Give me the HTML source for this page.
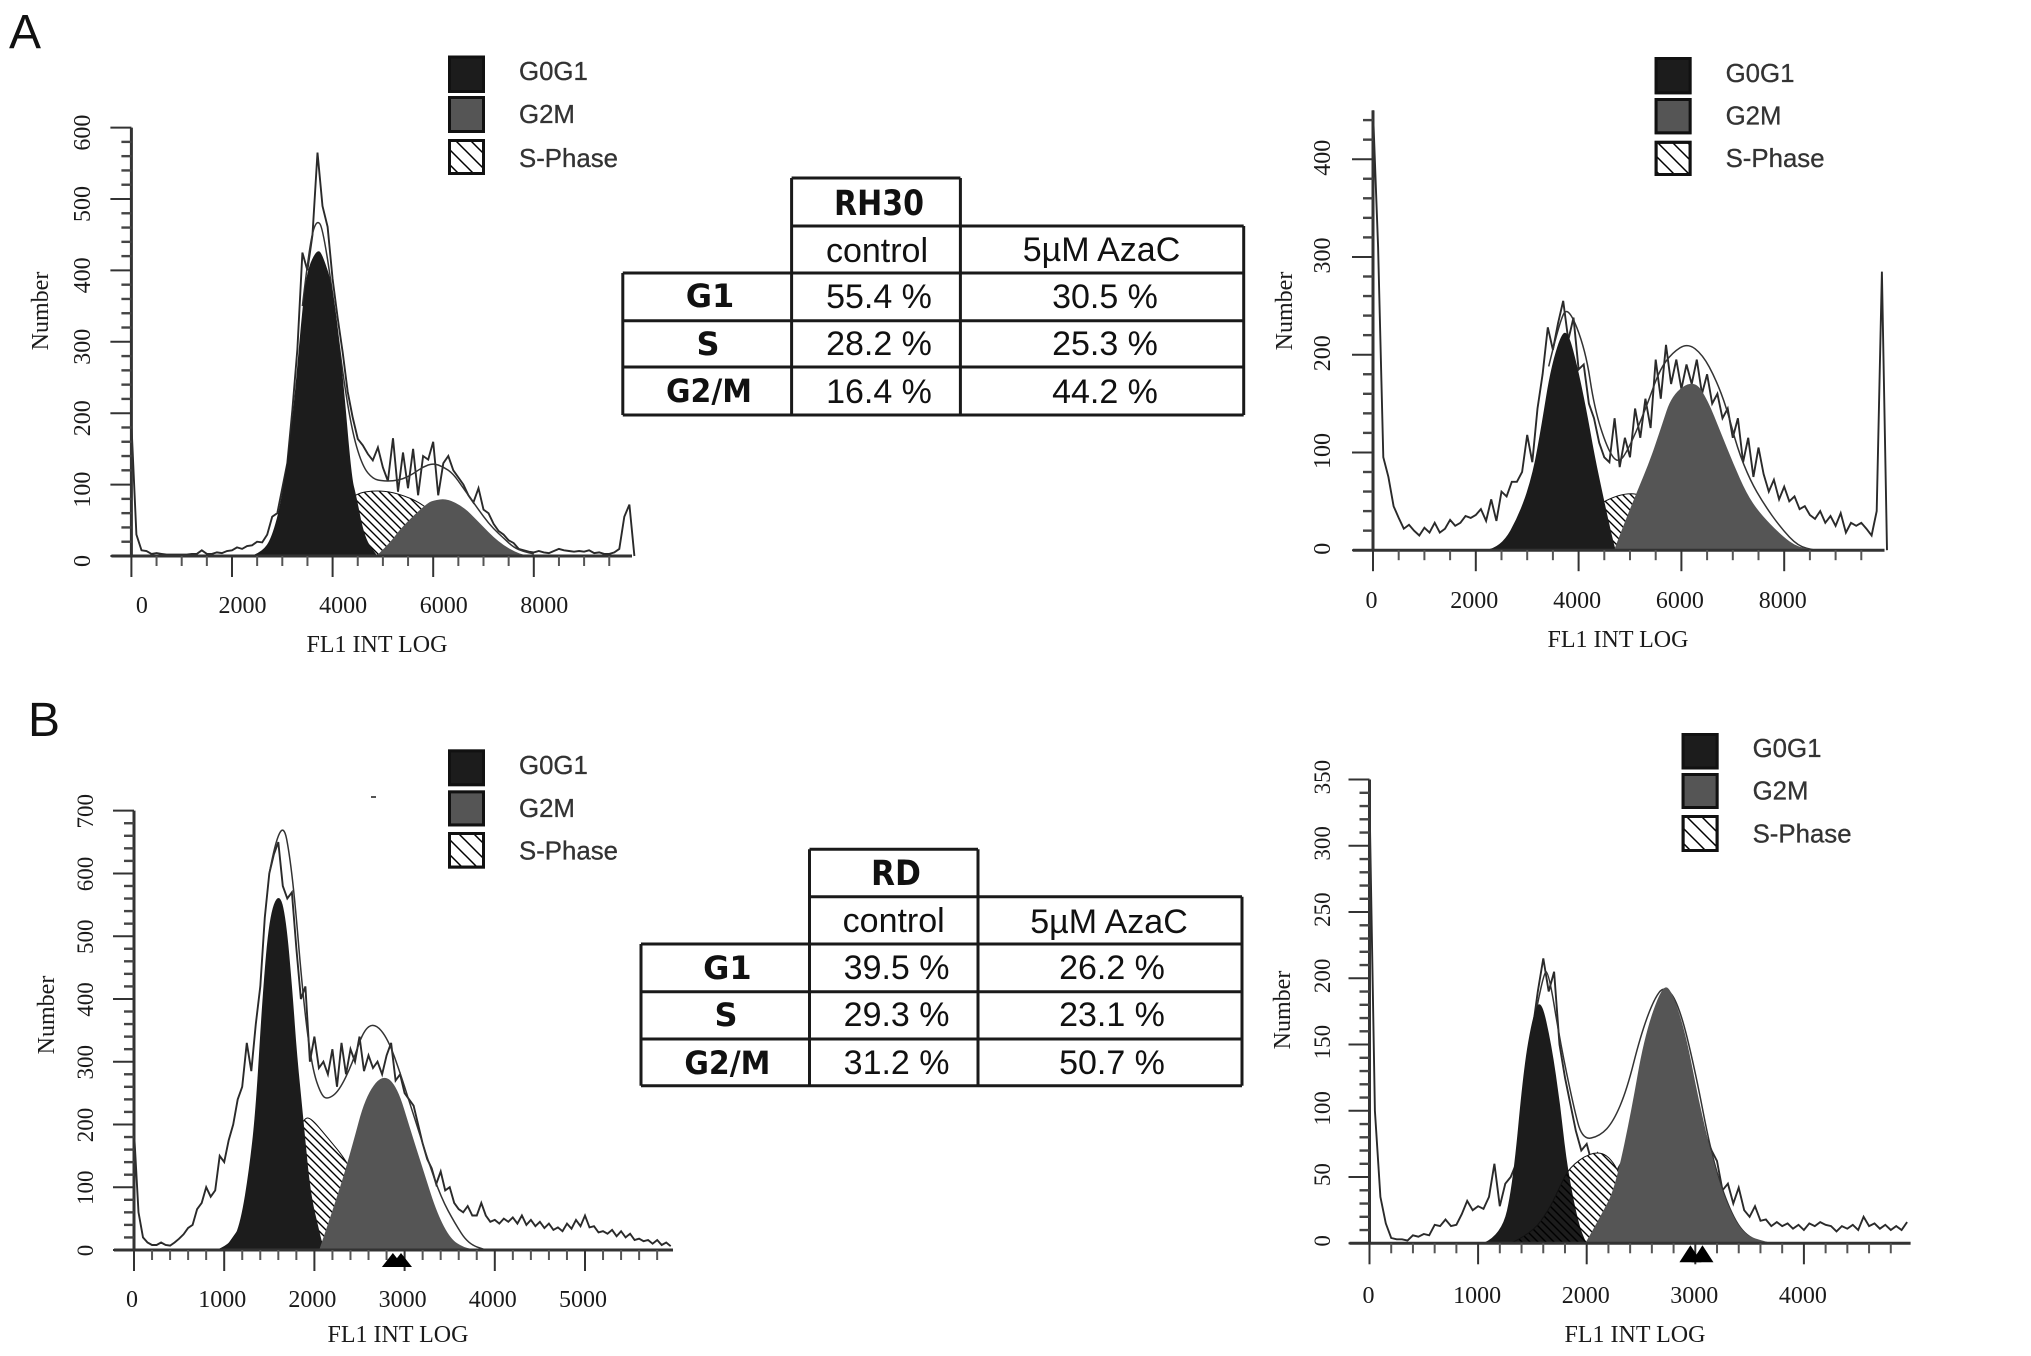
<!DOCTYPE html>
<html lang="en">
<head>
<meta charset="utf-8">
<title>Cell cycle flow cytometry histograms for RH30 and RD cells</title>
<style>
html,body{margin:0;padding:0;background:#fff;}
#figure{display:block;width:2031px;height:1356px;background:#fff;}
.axis-text{font-family:"Liberation Serif",serif;fill:#1a1a1a;}
.legend-text{font-family:"Liberation Sans",sans-serif;font-size:25.8px;fill:#333;stroke:#333;stroke-width:0.3;}
.cell-text{font-family:"Liberation Sans",sans-serif;font-size:34px;fill:#111;text-anchor:middle;}
.cell-bold{font-family:"DejaVu Sans",sans-serif;font-weight:bold;font-size:32px;fill:#111;text-anchor:middle;}
.cell-title{font-size:35px;}
.panel-letter{font-family:"Liberation Sans",sans-serif;font-size:48px;fill:#111;}
.grid-line{stroke:#1a1a1a;stroke-width:3;fill:none;}
</style>
</head>
<body>
<svg id="figure" xmlns="http://www.w3.org/2000/svg" width="2031" height="1356" viewBox="0 0 2031 1356">
<defs>
<pattern id="hatch" patternUnits="userSpaceOnUse" width="8" height="8"><path d="M-1,-1 L9,9 M-1,7 L1,9 M7,-1 L9,1" stroke="#000" stroke-width="1.4" fill="none"/></pattern>
<pattern id="hatch-wide" patternUnits="userSpaceOnUse" width="15" height="15"><path d="M-1,-1 L16,16 M-1,14 L1,16 M14,-1 L16,1" stroke="#000" stroke-width="1.5" fill="none"/></pattern>
</defs>

<text class="panel-letter" x="9" y="48">A</text>
<text class="panel-letter" x="28" y="736">B</text>

<g id="table-rh30">
<path class="grid-line" d="M791.6,178H960.4M791.6,226H1243.7M622.8,273H1243.7M622.8,320.7H1243.7M622.8,367H1243.7M622.8,415H1243.7M622.8,273V415M791.6,178V415M960.4,178V415M1243.7,226V415"/>
<text class="cell-bold cell-title" x="879" y="215" textLength="90" lengthAdjust="spacingAndGlyphs">RH30</text>
<text class="cell-text" x="877" y="262">control</text>
<text class="cell-text" x="1101.5" y="261">5µM AzaC</text>
<text class="cell-bold" x="710" y="307">G1</text>
<text class="cell-bold" x="708" y="355">S</text>
<text class="cell-bold" x="709" y="402" textLength="86" lengthAdjust="spacingAndGlyphs">G2/M</text>
<text class="cell-text" x="879" y="308">55.4 %</text>
<text class="cell-text" x="1105" y="308">30.5 %</text>
<text class="cell-text" x="879" y="355">28.2 %</text>
<text class="cell-text" x="1105" y="355">25.3 %</text>
<text class="cell-text" x="879" y="403">16.4 %</text>
<text class="cell-text" x="1105" y="403">44.2 %</text>
</g>

<g id="table-rd">
<path class="grid-line" d="M809.5,849.3H978M809.5,896.7H1242M641,944H1242M641,991.7H1242M641,1039H1242M641,1085.7H1242M641,944V1085.7M809.5,849.3V1085.7M978,849.3V1085.7M1242,896.7V1085.7"/>
<text class="cell-bold cell-title" x="896" y="885" textLength="50" lengthAdjust="spacingAndGlyphs">RD</text>
<text class="cell-text" x="893.7" y="932">control</text>
<text class="cell-text" x="1109" y="933">5µM AzaC</text>
<text class="cell-bold" x="727.4" y="979">G1</text>
<text class="cell-bold" x="726" y="1026">S</text>
<text class="cell-bold" x="727.4" y="1074" textLength="86" lengthAdjust="spacingAndGlyphs">G2/M</text>
<text class="cell-text" x="896.6" y="979">39.5 %</text>
<text class="cell-text" x="1112" y="979">26.2 %</text>
<text class="cell-text" x="896.6" y="1026">29.3 %</text>
<text class="cell-text" x="1112" y="1026">23.1 %</text>
<text class="cell-text" x="896.6" y="1074">31.2 %</text>
<text class="cell-text" x="1112" y="1074">50.7 %</text>
</g>

<rect x="371" y="796" width="5" height="2" fill="#555"/>
</svg>

<script>
// ---- Panel A, RH30 control ----
const a1Step = 100;
const a1Counts = [
185,30,8,7,3,4,3,2,2,2,
2,2,3,3,8,3,3,5,4,7,
8,12,10,14,15,20,19,30,55,60,
95,130,205,290,425,400,450,565,490,461,
388,334,285,230,194,164,155,143,134,152,
124,105,165,90,145,95,150,85,140,135,
160,85,130,140,120,110,100,85,75,95,
65,60,45,35,30,22,18,10,8,6,
5,7,5,4,7,10,8,7,6,7,
6,8,4,5,3,3,5,10,55,72,
0];
const a1FitX = [3400,3500,3600,3700,3800,4000,4200,4400,4600,4800,5000,5200,5400,5600,5800,6000,6200,6400,6600,6800,7000,7200,7400,7600,7800,8000];
const a1Fit  = [350,410,455,470,460,370,255,170,125,108,105,105,108,115,125,130,125,115,95,75,55,38,25,12,6,3];
const a1G1X  = [2400,2600,2800,3000,3200,3400,3500,3700,3800,4000,4200,4370,4460,4630,4880];
const a1G1   = [0,5,25,80,180,340,400,430,420,376,249,109,85,24,0];
const a1G2X  = [4880,5100,5405,5879,6000,6267,6600,6870,7300,7730,8000];
const a1G2   = [0,14,42,73,77,80,68,49,18,1,0];
const a1SX   = [2900,3500,4000,4450,4900,5300,5800,6200,6800];
const a1S    = [0,20,60,88,92,88,73,45,0];
const a1XTicks = [0,2000,4000,6000,8000];
const a1YTicks = [0,100,200,300,400,500,600];

// ---- Panel A, RH30 5uM AzaC ----
const a2Step = 100;
const a2Counts = [
450,310,95,75,45,33,22,26,20,15,
23,18,28,18,22,31,25,28,35,33,
36,42,30,52,30,60,55,70,70,80,
118,90,145,180,228,205,232,255,215,238,
185,190,150,135,110,95,90,135,85,115,
95,145,115,155,125,195,155,210,170,195,
165,190,170,195,160,180,150,160,135,145,
115,135,90,115,75,105,78,60,72,52,
65,50,55,42,45,36,32,40,28,35,
25,38,18,28,25,28,22,15,40,285,
0];
const a2FitX = [3418,3629,3797,4135,4304,4557,4768,4979,5316,5570,5823,6118,6414,6667,6878,7089,7342,7595,7932,8270,8600];
const a2Fit  = [188,234,250,205,146,104,88,104,146,184,202,212,200,175,146,104,71,48,23,4,0];
const a2G1X  = [2200,2490,2870,3122,3291,3460,3671,3797,3966,4135,4304,4473,4684,4720];
const a2G1   = [0,2,38,79,129,184,222,222,188,146,96,54,4,0];
const a2G2X  = [4700,4895,5148,5401,5612,5823,6245,6498,6751,7004,7257,7510,7932,8270,8700];
const a2G2   = [0,27,60,92,125,159,174,154,121,88,58,38,15,2,0];
const a2SX   = [3000,3800,4515,5063,5400,6000];
const a2S    = [0,25,52,60,50,0];
const a2XTicks = [0,2000,4000,6000,8000];
const a2YTicks = [0,100,200,300,400];

// ---- Panel B, RD control ----
const b1Step = 50;
const b1Counts = [
190,60,20,12,8,8,12,8,7,12,
18,25,35,40,65,75,100,85,95,150,
140,175,200,240,260,330,285,360,420,530,
600,630,650,580,560,570,480,400,420,300,
340,290,300,280,320,260,330,280,320,300,
340,285,310,290,300,280,310,330,270,280,
250,240,230,200,170,145,130,105,125,95,
100,75,65,60,70,55,55,75,55,45,
48,42,50,45,52,42,55,40,48,38,
45,35,42,32,36,30,42,34,48,38,
55,36,38,28,30,26,32,22,30,20,
26,16,18,14,16,10,16,8,12,6];
const b1FitX = [1500,1630,1753,1877,1975,2074,2148,2272,2420,2543,2667,2815,2963,3111,3259,3407,3555,3704,3900];
const b1Fit  = [600,700,610,397,290,247,240,253,297,350,362,337,277,210,143,83,43,10,0];
const b1G1X  = [938,1086,1185,1284,1358,1432,1506,1605,1679,1753,1802,1877,1951,2049,2100];
const b1G1   = [1,10,43,130,230,410,530,570,530,410,310,203,90,30,0];
const b1G2X  = [2059,2272,2420,2568,2756,2914,3062,3210,3358,3506,3654,3800];
const b1G2   = [0,90,163,243,280,260,190,123,57,17,3,0];
const b1SX   = [1000,1400,1700,1877,1950,2123,2370,2700,3000];
const b1S    = [0,80,160,208,212,183,140,50,0];
const b1XTicks = [0,1000,2000,3000,4000,5000];
const b1YTicks = [0,100,200,300,400,500,600,700];
const b1Markers = [2870,2960];

// ---- Panel B, RD 5uM AzaC ----
const b2Step = 50;
const b2Counts = [
335,100,35,15,4,3,3,2,6,5,
7,6,14,13,18,13,14,22,32,25,
28,26,35,60,28,45,50,60,100,120,
160,190,215,190,205,150,125,105,85,70,
75,60,68,62,60,50,58,65,70,80,
90,115,140,165,185,190,185,165,150,130,
110,95,80,70,62,40,45,30,42,25,
20,28,17,18,13,16,13,15,11,14,
10,15,13,16,14,13,9,13,11,14,
10,20,13,15,11,14,10,13,10,16];
const b2FitX = [1500,1600,1650,1753,1877,1959,2123,2247,2370,2494,2617,2720,2850,3000,3150,3300,3450,3650];
const b2Fit  = [160,205,205,153,104,78,81,92,116,156,184,195,180,130,66,28,6,0];
const b2G1X  = [1053,1218,1321,1424,1506,1576,1671,1753,1815,1918,1992];
const b2G1   = [0,6,43,132,171,185,150,104,58,15,0];
const b2G2X  = [1992,2165,2267,2412,2535,2700,2782,2905,3029,3152,3276,3440,3646,3700];
const b2G2   = [0,25,43,98,156,195,190,159,107,64,31,6,1,0];
const b2SX   = [1300,1500,1650,1750,1835,2041,2206,2350,2500];
const b2S    = [0,8,25,42,57,69,67,45,0];
const b2XTicks = [0,1000,2000,3000,4000];
const b2YTicks = [0,50,100,150,200,250,300,350];
const b2Markers = [2955,3066];

const legendEntries = ['G0G1','G2M','S-Phase'];

const svgNS = 'http://www.w3.org/2000/svg';
const root = document.getElementById('figure');

function make(tag, attrs, parent, name) {
  const node = document.createElementNS(svgNS, tag);
  Object.keys(attrs).forEach(function (k) { node.setAttribute(k, attrs[k]); });
  
  
  parent.appendChild(node);
  return node;
}

function drawPanel(cfg) {
  const g = make('g', {}, root, cfg.id + '-panel');
  const sx = function (v) { return cfg.x0 + v * cfg.kx; };
  const sy = function (v) { return cfg.y0 - v * cfg.ky; };
  const pts = function (xs, ys) {
    return xs.map(function (x, i) { return sx(x).toFixed(1) + ',' + sy(ys[i]).toFixed(1); }).join(' ');
  };
  // rounds the read-off curve through segment midpoints so the model peaks stay bell shaped
  const smooth = function (xs, ys, close) {
    const px = xs.map(sx);
    const py = ys.map(sy);
    let d = 'M' + px[0].toFixed(1) + ',' + py[0].toFixed(1);
    for (let i = 1; i < px.length - 1; i++) {
      const mx = (px[i] + px[i + 1]) / 2;
      const my = (py[i] + py[i + 1]) / 2;
      d += ' Q' + px[i].toFixed(1) + ',' + py[i].toFixed(1) + ' ' + mx.toFixed(1) + ',' + my.toFixed(1);
    }
    d += ' L' + px[px.length - 1].toFixed(1) + ',' + py[py.length - 1].toFixed(1);
    return close ? d + ' Z' : d;
  };
  const binX = cfg.counts.map(function (_, i) { return i * cfg.step; });

  // measured histogram and model fit sit beneath the filled phases
  make('polyline', {points: pts(binX, cfg.counts), fill: 'none', stroke: '#2a2a2a', 'stroke-width': 1.9, 'stroke-linejoin': 'miter'}, g, cfg.id + '-histogram');
  make('path', {d: smooth(cfg.fitX, cfg.fit, false), fill: 'none', stroke: '#333', 'stroke-width': 1.5}, g, cfg.id + '-fit-line');

  if (cfg.hatchOverDark) {
    make('path', {d: smooth(cfg.sX, cfg.s, true), fill: '#fff', stroke: 'none'}, g, cfg.id + '-s-phase-base');
    make('path', {d: smooth(cfg.g1X, cfg.g1, true), fill: '#1c1c1c', stroke: '#1c1c1c', 'stroke-width': 1}, g, cfg.id + '-g0g1-area');
    make('path', {d: smooth(cfg.sX, cfg.s, true), fill: 'url(#hatch)', stroke: '#111', 'stroke-width': 1}, g, cfg.id + '-s-phase-area');
  } else {
    make('path', {d: smooth(cfg.sX, cfg.s, true), fill: '#fff', stroke: 'none'}, g, cfg.id + '-s-phase-base');
    make('path', {d: smooth(cfg.sX, cfg.s, true), fill: 'url(#hatch)', stroke: '#111', 'stroke-width': 1}, g, cfg.id + '-s-phase-area');
    make('path', {d: smooth(cfg.g1X, cfg.g1, true), fill: '#1c1c1c', stroke: '#1c1c1c', 'stroke-width': 1}, g, cfg.id + '-g0g1-area');
  }
  make('path', {d: smooth(cfg.g2X, cfg.g2, true), fill: '#555', stroke: '#555', 'stroke-width': 1}, g, cfg.id + '-g2m-area');

  // y axis
  make('line', {x1: sx(0), x2: sx(0), y1: sy(cfg.yMax), y2: sy(0), stroke: '#333', 'stroke-width': 3}, g, cfg.id + '-y-axis');
  for (let v = 0; v <= cfg.yMax + 0.001; v += cfg.yMinor) {
    const major = v % cfg.yMajor === 0;
    const tick = make('line', {x1: sx(0) - (major ? 21 : 10), x2: sx(0), y1: sy(v), y2: sy(v), stroke: major ? '#333' : '#444', 'stroke-width': major ? 2 : 2.4}, g, 'y-tick');
    tick.setAttribute('data-value', v);
  }
  cfg.yTicks.forEach(function (v) {
    const ly = sy(v) + cfg.yLabelOffset;
    const label = make('text', {x: cfg.yLabelX, y: ly, 'font-size': cfg.tickFont, 'text-anchor': 'middle', 'dominant-baseline': 'central', transform: 'rotate(-90 ' + cfg.yLabelX + ' ' + ly + ')', class: 'axis-text'}, g, 'y-tick-label');
    label.textContent = v;
  });

  // x axis
  make('line', {x1: sx(0) - 20, x2: cfg.xEnd, y1: sy(0), y2: sy(0), stroke: '#333', 'stroke-width': 3}, g, cfg.id + '-x-axis');
  for (let v = 0; sx(v) <= cfg.xEnd; v += cfg.xMinor) {
    const major = v % cfg.xMajor === 0;
    const tick = make('line', {x1: sx(v), x2: sx(v), y1: sy(0), y2: sy(0) + (major ? 21 : 10), stroke: major ? '#333' : '#555', 'stroke-width': 2}, g, 'x-tick');
    tick.setAttribute('data-value', v);
  }
  cfg.xTicks.forEach(function (v) {
    const label = make('text', {x: sx(v) + cfg.xLabelOffset, y: cfg.xLabelY, 'font-size': 24, 'text-anchor': 'middle', 'dominant-baseline': 'central', class: 'axis-text'}, g, 'x-tick-label');
    label.textContent = v;
  });

  (cfg.markers || []).forEach(function (v) {
    const px = sx(v);
    const top = sy(0) + cfg.markerTop;
    make('polygon', {points: (px - 11) + ',' + (top + cfg.markerHeight) + ' ' + px + ',' + top + ' ' + (px + 11) + ',' + (top + cfg.markerHeight), fill: '#000'}, g, 'region-marker');
  });

  const xTitle = make('text', {x: cfg.xTitleX, y: cfg.xTitleY, 'font-size': 24, 'text-anchor': 'middle', 'dominant-baseline': 'central', class: 'axis-text'}, g, 'x-axis-title');
  xTitle.textContent = 'FL1 INT LOG';
  const yTitle = make('text', {x: cfg.yTitleX, y: cfg.yTitleY, 'font-size': 24, 'text-anchor': 'middle', 'dominant-baseline': 'central', transform: 'rotate(-90 ' + cfg.yTitleX + ' ' + cfg.yTitleY + ')', class: 'axis-text'}, g, 'y-axis-title');
  yTitle.textContent = 'Number';

  // legend
  const fills = ['#1c1c1c', '#555', 'url(#hatch-wide)'];
  legendEntries.forEach(function (entry, i) {
    const box = cfg.legendBoxes[i];
    make('rect', {x: cfg.legendX + 1.5, y: box[0] + 1.5, width: 34, height: box[1] - box[0] - 3, fill: '#fff', stroke: '#111', 'stroke-width': 3}, g, 'legend-swatch-outline');
    make('rect', {x: cfg.legendX + 1.5, y: box[0] + 1.5, width: 34, height: box[1] - box[0] - 3, fill: fills[i], stroke: '#111', 'stroke-width': 3}, g, 'legend-swatch');
    const t = make('text', {x: cfg.legendX + 71, y: box[2], 'dominant-baseline': 'central', class: 'legend-text'}, g, 'legend-entry');
    t.textContent = entry;
  });
}

drawPanel({id: 'rh30-control', counts: a1Counts, step: a1Step, fitX: a1FitX, fit: a1Fit, g1X: a1G1X, g1: a1G1, g2X: a1G2X, g2: a1G2, sX: a1SX, s: a1S,
  xTicks: a1XTicks, yTicks: a1YTicks, x0: 131.4, kx: 0.0503, y0: 556, ky: 0.714, yMax: 600, yMinor: 20, yMajor: 100, xMinor: 500, xMajor: 2000, xEnd: 632,
  yLabelX: 83, yLabelOffset: 5, xLabelOffset: 10.5, xLabelY: 606, tickFont: 24, xTitleX: 377, xTitleY: 645, yTitleX: 41, yTitleY: 311,
  legendX: 448, legendBoxes: [[55.5, 93, 72], [96, 133, 115], [139, 175, 159]]});

drawPanel({id: 'rh30-azac', counts: a2Counts, step: a2Step, fitX: a2FitX, fit: a2Fit, g1X: a2G1X, g1: a2G1, g2X: a2G2X, g2: a2G2, sX: a2SX, s: a2S,
  xTicks: a2XTicks, yTicks: a2YTicks, x0: 1373, kx: 0.0514, y0: 550.2, ky: 0.9775, yMax: 450, yMinor: 20, yMajor: 100, xMinor: 500, xMajor: 2000, xEnd: 1884.5,
  yLabelX: 1323, yLabelOffset: -1.5, xLabelOffset: -1.5, xLabelY: 601, tickFont: 24, xTitleX: 1618, xTitleY: 640, yTitleX: 1285, yTitleY: 311,
  legendX: 1654.6, legendBoxes: [[57, 94.3, 74], [98, 134.3, 116.3], [140.8, 176, 159.2]]});

drawPanel({id: 'rd-control', counts: b1Counts, step: b1Step, fitX: b1FitX, fit: b1Fit, g1X: b1G1X, g1: b1G1, g2X: b1G2X, g2: b1G2, sX: b1SX, s: b1S,
  xTicks: b1XTicks, yTicks: b1YTicks, markers: b1Markers, markerTop: 3, markerHeight: 14, x0: 134, kx: 0.0902, y0: 1250, ky: 0.6276, yMax: 700, yMinor: 20, yMajor: 100, xMinor: 200, xMajor: 1000, xEnd: 673,
  yLabelX: 85.7, yLabelOffset: 0.5, xLabelOffset: -2, xLabelY: 1300, tickFont: 23, xTitleX: 398, xTitleY: 1335, yTitleX: 47, yTitleY: 1015,
  legendX: 448, legendBoxes: [[749.4, 786.2, 766], [790.4, 826.4, 808.8], [832, 868.6, 851.5]]});

drawPanel({id: 'rd-azac', counts: b2Counts, step: b2Step, fitX: b2FitX, fit: b2Fit, g1X: b2G1X, g1: b2G1, g2X: b2G2X, g2: b2G2, sX: b2SX, s: b2S, hatchOverDark: true,
  xTicks: b2XTicks, yTicks: b2YTicks, markers: b2Markers, markerTop: 2, markerHeight: 17, x0: 1369.5, kx: 0.1086, y0: 1243.3, ky: 1.325, yMax: 350, yMinor: 10, yMajor: 50, xMinor: 200, xMajor: 1000, xEnd: 1910.6,
  yLabelX: 1322.7, yLabelOffset: -2.5, xLabelOffset: -1, xLabelY: 1296, tickFont: 23, xTitleX: 1635, xTitleY: 1335, yTitleX: 1283, yTitleY: 1010,
  legendX: 1681.6, legendBoxes: [[733, 769.5, 749], [773, 809, 791.4], [815, 852, 834.5]]});
</script>
</body>
</html>
